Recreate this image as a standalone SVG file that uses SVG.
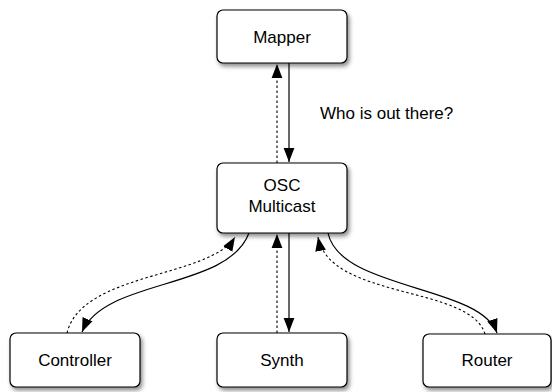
<svg xmlns="http://www.w3.org/2000/svg" width="552" height="392" viewBox="0 0 552 392">
  <style>
    .box { fill: #ffffff; stroke: #000000; stroke-width: 1.2; filter: url(#shadow); }
    .label { font-family: "Liberation Sans", Arial, sans-serif; font-size: 17px; fill: #000000; text-anchor: middle; }
    .solid { fill: none; stroke: #000000; stroke-width: 1.2; marker-end: url(#arrow); }
    .dashed { fill: none; stroke: #000000; stroke-width: 1.1; stroke-dasharray: 2.5 2.5; marker-end: url(#arrow); }
  </style>
  <defs>
    <filter id="shadow" x="-20%" y="-30%" width="150%" height="170%">
      <feDropShadow dx="2" dy="3" stdDeviation="2.2" flood-color="#000000" flood-opacity="0.45"/>
    </filter>
    <marker id="arrow" markerUnits="userSpaceOnUse" markerWidth="14" markerHeight="12" viewBox="0 0 13 10" refX="13" refY="5" orient="auto">
      <path d="M0,0 L13,5 L0,10 Z" fill="#000000" stroke="none"/>
    </marker>
  </defs>

  <g id="connectors">
    <path class="dashed" d="M277,163 L277,64"/>
    <path class="solid" d="M289,63 L289,162"/>
    <path class="dashed" d="M277,333 L277,234"/>
    <path class="solid" d="M289,233 L289,332"/>
    <path class="solid" d="M249,233 C228,290 105,278 82,332"/>
    <path class="dashed" d="M67,333 C82,272 210,278 235,237"/>
    <path class="solid" d="M328,233 C340,290 480,285 497,333"/>
    <path class="dashed" d="M485,334 C470,285 330,300 318,237"/>
    <text class="label" x="320" y="119" style="text-anchor:start">Who is out there?</text>
  </g>

  <g id="mapper">
    <rect class="box" x="217" y="10" width="130" height="53" rx="6" ry="6"/>
    <text class="label" x="282" y="43">Mapper</text>
  </g>
  <g id="osc-multicast">
    <rect class="box" x="217" y="163" width="130" height="70" rx="6" ry="6"/>
    <text class="label" x="282" y="191">OSC</text>
    <text class="label" x="282" y="212">Multicast</text>
  </g>
  <g id="controller">
    <rect class="box" x="10" y="333" width="130" height="54" rx="6" ry="6"/>
    <text class="label" x="75" y="366">Controller</text>
  </g>
  <g id="synth">
    <rect class="box" x="217" y="333" width="130" height="54" rx="6" ry="6"/>
    <text class="label" x="282" y="366">Synth</text>
  </g>
  <g id="router">
    <rect class="box" x="423" y="334" width="128" height="53" rx="6" ry="6"/>
    <text class="label" x="487" y="366">Router</text>
  </g>
</svg>
